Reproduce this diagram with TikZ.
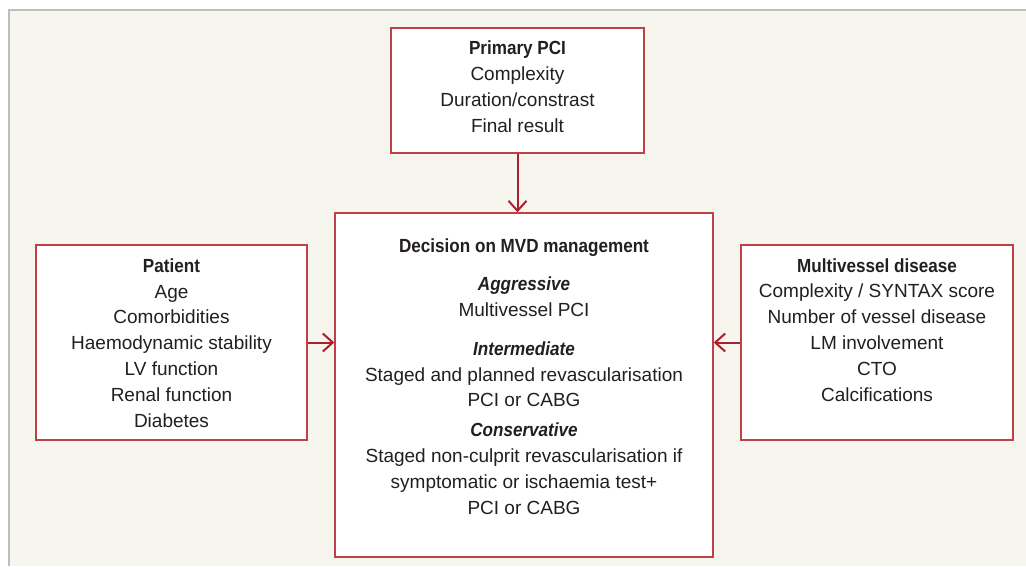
\documentclass[tikz,border=0pt]{standalone}
\usepackage{fontspec}
\setmainfont{Liberation Sans}[BoldFeatures={FakeStretch=0.9},BoldItalicFeatures={FakeStretch=0.9}]
\usetikzlibrary{arrows.meta}

\definecolor{bgbeige}{RGB}{246,245,238}
\definecolor{framegray}{RGB}{190,190,190}
\definecolor{boxred}{RGB}{192,64,70}
\definecolor{arrowred}{RGB}{172,32,45}
\definecolor{inktext}{RGB}{35,31,32}

\tikzset{
  panel/.style={draw=boxred, line width=1.4pt, fill=white, inner sep=0pt},
  paneltext/.style={anchor=base, align=center, inner sep=0pt, text=inktext,
    font=\fontsize{19}{25.8}\selectfont},
  feed/.style={draw=arrowred, line width=2pt, -{Straight Barb[length=10pt,width=18pt]}}
}

\begin{document}
\begin{tikzpicture}[x=1pt, y=-1pt]
    \useasboundingbox (0,0) rectangle (1026,566);
    % Fond et cadre
    \fill[bgbeige] (9,10) rectangle (1026,566);
    \draw[framegray, line width=1.5pt] (9,566) -- (9,10) -- (1026,10);

    % Caixes
    \node[panel, minimum width=253pt, minimum height=125pt] (pci) at (517.5,90.5) {};
    \node[panel, minimum width=378pt, minimum height=344pt] (decision) at (524,385) {};
    \node[panel, minimum width=271pt, minimum height=195pt] (patient) at (171.5,342.5) {};
    \node[panel, minimum width=272pt, minimum height=195pt] (mvd) at (877,342.5) {};

    % Textos (ancorats a la darrera linia)
    \node[paneltext] (pcitext) at (517.5,132) {\textbf{Primary PCI}\\ Complexity\\ Duration/constrast\\ Final result};
    \node[paneltext] (patienttext) at (171.5,427) {\textbf{Patient}\\ Age\\ Comorbidities\\ Haemodynamic stability\\ LV function\\ Renal function\\ Diabetes};
    \node[paneltext] (mvdtext) at (877,401) {\textbf{Multivessel disease}\\ Complexity / SYNTAX score\\ Number of vessel disease\\ LM involvement\\ CTO\\ Calcifications};
    \node[paneltext] (decisiontext) at (524,514) {\textbf{Decision on MVD management}\\[12pt]
        \textbf{\textit{Aggressive}}\\ Multivessel PCI\\[13pt]
        \textbf{\textit{Intermediate}}\\ Staged and planned revascularisation\\ PCI or CABG\\[4pt]
        \textbf{\textit{Conservative}}\\ Staged non-culprit revascularisation if\\ symptomatic or ischaemia test+\\ PCI or CABG};

    % Fletxes
    \draw[feed] (pci.south) -- (pci.south |- decision.north);
    \draw[feed] (patient.east) -- (patient.east -| decision.west);
    \draw[feed] (mvd.west) -- (mvd.west -| decision.east);
\end{tikzpicture}
\end{document}
